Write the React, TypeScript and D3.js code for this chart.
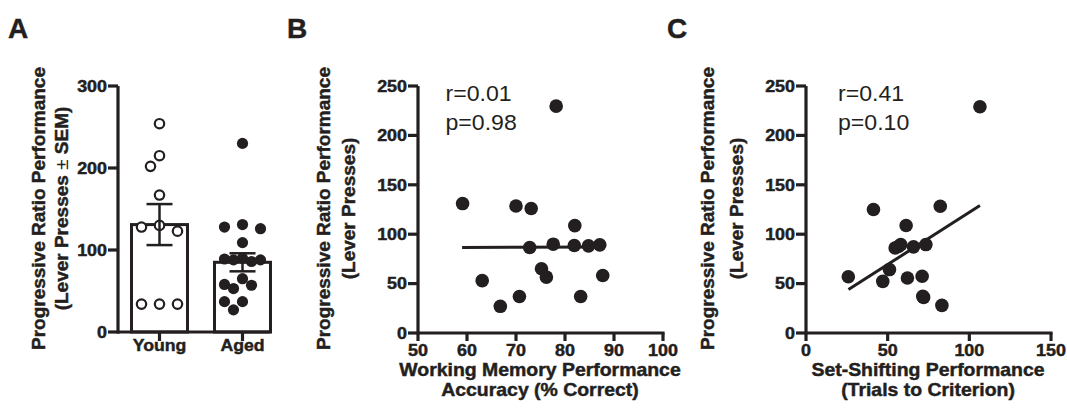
import React from 'react';
import * as d3 from 'd3';

// Panel A: progressive ratio lever presses by group
const groups = ['Young', 'Aged'];
const youngPresses = [254, 215, 202, 167, 128, 123, 130, 34, 34, 34];
const agedPresses = [230, 131, 128, 126, 109, 90, 89, 88, 88, 86, 65, 58, 57, 53, 37, 37, 27];
const groupMeans = [131, 85];
const groupSEM = [25, 11];
const ticksA = [0, 100, 200, 300];

// Panel B: working memory accuracy vs lever presses (aged rats)
const wmAccuracy = [59.1, 63.1, 66.8, 70, 70.7, 73.1, 72.8, 75.2, 76.2, 77.6, 78.2, 82, 81.9, 83.2, 84.8, 87.1, 87.7];
const wmPresses = [131, 53, 27, 128.6, 37, 126, 86.5, 65, 56.6, 89.9, 229.6, 108.7, 88.5, 37, 88.2, 89.2, 58.2];
const wmFitX = [59, 88];
const wmFitY = [86.6, 87.0];
const statsB = ['r=0.01', 'p=0.98'];
const ticksBX = [50, 60, 70, 80, 90, 100];

// Panel C: set-shifting trials to criterion vs lever presses
const ssTrials = [25.9, 41.3, 47, 51.1, 54.6, 56.5, 58, 61.3, 62.1, 65.8, 71.1, 71.5, 72, 73.4, 82.2, 83.2, 106.5];
const ssPresses = [57, 125, 52.3, 64.2, 86.1, 87.5, 89.5, 108.8, 55.7, 87.2, 57.4, 37.1, 36, 89.5, 128.3, 28, 229];
const ssFitX = [26, 106.5];
const ssFitY = [44, 129];
const statsC = ['r=0.41', 'p=0.10'];
const ticksCX = [0, 50, 100, 150];

const ticksY = [0, 50, 100, 150, 200, 250];

const INK = '#231f20';
const FONT = '"Liberation Sans", Arial, Helvetica, sans-serif';

// horizontal offsets so that dots of a column scatter don't pile up
function swarm(values: number[], y: (v: number) => number, minDist: number, steps: number[]) {
  const placed: { dx: number; cy: number }[] = [];
  const offsets = new Array(values.length).fill(0);
  const order = values.map((_, i) => i).sort((a, b) => values[b] - values[a]);
  order.forEach(i => {
    const cy = y(values[i]);
    let best = steps[0];
    let bestD = -1;
    for (const dx of steps) {
      const d = placed.length ? d3.min(placed, p => Math.hypot(p.dx - dx, p.cy - cy))! : Infinity;
      if (d >= minDist) { best = dx; break; }
      if (d > bestD) { bestD = d; best = dx; }
    }
    placed.push({ dx: best, cy });
    offsets[i] = best;
  });
  return offsets;
}

const Label = ({ x, y, size, sx = 1, rotate = false, anchor = 'middle', weight = 'bold', children }: any) => (
  <text
    transform={`translate(${x},${y})${rotate ? ' rotate(-90)' : ''} scale(${sx},1)`}
    fontSize={size}
    textAnchor={anchor}
    fontWeight={weight}
    fill={INK}
    stroke={weight === 'bold' ? INK : 'none'}
    strokeWidth={weight === 'bold' ? 0.45 : 0}
    fontFamily={FONT}
  >
    {children}
  </text>
);

const YAxis = ({ x, y, ticks }: any) => {
  const [r0, r1] = y.range();
  return (
    <g>
      <line x1={x} x2={x} y1={r0 + 1.6} y2={r1} stroke={INK} strokeWidth={3.2} />
      {ticks.map((t: number) => (
        <g key={t}>
          <line x1={x - 10} x2={x} y1={y(t)} y2={y(t)} stroke={INK} strokeWidth={3.2} />
          <Label x={x - 11} y={y(t) + 5.8} size={16} sx={1.12} anchor="end">{t}</Label>
        </g>
      ))}
    </g>
  );
};

const XAxis = ({ y, x, ticks }: any) => {
  const [r0, r1] = x.range();
  return (
    <g>
      <line x1={r0} x2={r1 + 1.6} y1={y} y2={y} stroke={INK} strokeWidth={3.2} />
      {ticks.map((t: number) => (
        <g key={t}>
          <line x1={x(t)} x2={x(t)} y1={y} y2={y + 8} stroke={INK} strokeWidth={3.2} />
          <Label x={x(t)} y={y + 23} size={16} sx={1.12}>{t}</Label>
        </g>
      ))}
    </g>
  );
};

const Scatter = ({ xs, ys, x, y, fitX, fitY, stats, statX }: any) => (
  <g>
    {xs.map((v: number, i: number) => (
      <circle key={i} cx={x(v)} cy={y(ys[i])} r={6.8} fill={INK} />
    ))}
    <line x1={x(fitX[0])} x2={x(fitX[1])} y1={y(fitY[0])} y2={y(fitY[1])} stroke={INK} strokeWidth={3} />
    <Label x={statX} y={101} size={22} sx={1.05} anchor="start" weight="normal">{stats[0]}</Label>
    <Label x={statX} y={129.5} size={22} sx={1.05} anchor="start" weight="normal">{stats[1]}</Label>
  </g>
);

const YTitle = ({ x1, x2, lines }: any) => (
  <g>
    <Label x={x1} y={208.5} size={19} rotate>{lines[0]}</Label>
    <Label x={x2} y={208.5} size={19} rotate>{lines[1]}</Label>
  </g>
);

export default function App() {
  const W = 1067;
  const H = 415;

  // panel A scales
  const yA = d3.scaleLinear().domain([0, 300]).range([332, 86]);
  const xA = d3.scalePoint().domain(groups).range([118, 284]).padding(0.5);
  const barW = 56;
  const youngDx = swarm(youngPresses, yA, 11, [0, -9, 9, -18, 18]);
  const agedDx = swarm(agedPresses, yA, 11, [0, -9, 9, -18, 18]);

  // panel B / C scales
  const xB = d3.scaleLinear().domain([50, 100]).range([418, 663]);
  const yB = d3.scaleLinear().domain([0, 250]).range([333, 86]);
  const xC = d3.scaleLinear().domain([0, 150]).range([806, 1051]);
  const yC = d3.scaleLinear().domain([0, 250]).range([333, 86]);

  const aRight = (xA('Aged') as number) + barW / 2;

  return (
    <svg width={W} height={H} style={{ position: 'absolute', left: 0, top: 0, background: '#fff' }}>
      <rect width={W} height={H} fill="#fff" />

      {/* panel letters */}
      <Label x={8} y={38} size={28} anchor="start">A</Label>
      <Label x={287} y={38} size={28} anchor="start">B</Label>
      <Label x={667} y={38} size={28} anchor="start">C</Label>

      {/* ---- Panel A ---- */}
      <YTitle
        x1={44.5}
        x2={68}
        lines={[
          'Progressive Ratio Performance',
          <>(Lever Presses <tspan fontWeight="normal" strokeWidth={0}>±</tspan> SEM)</>,
        ]}
      />
      {groups.map((g, gi) => {
        const cx = xA(g) as number;
        return (
          <rect
            key={g}
            x={cx - barW / 2}
            y={yA(groupMeans[gi])}
            width={barW}
            height={yA(0) - yA(groupMeans[gi])}
            fill="#fff"
            stroke={INK}
            strokeWidth={3}
          />
        );
      })}
      {youngPresses.map((v, i) => (
        <circle key={'y' + i} cx={(xA('Young') as number) + youngDx[i]} cy={yA(v)} r={4.7} fill="#fff" stroke={INK} strokeWidth={2.2} />
      ))}
      {agedPresses.map((v, i) => (
        <circle key={'a' + i} cx={(xA('Aged') as number) + agedDx[i]} cy={yA(v)} r={5.6} fill={INK} />
      ))}
      {groups.map((g, gi) => {
        const cx = xA(g) as number;
        const hi = yA(groupMeans[gi] + groupSEM[gi]);
        const lo = yA(groupMeans[gi] - groupSEM[gi]);
        return (
          <g key={'e' + g} stroke={INK} strokeWidth={2.5}>
            <line x1={cx} x2={cx} y1={hi} y2={lo} />
            <line x1={cx - 13} x2={cx + 13} y1={hi} y2={hi} />
            <line x1={cx - 13} x2={cx + 13} y1={lo} y2={lo} />
          </g>
        );
      })}
      <YAxis x={118} y={yA} ticks={ticksA} />
      <line x1={118} x2={aRight} y1={yA(0)} y2={yA(0)} stroke={INK} strokeWidth={3.2} />
      {groups.map(g => (
        <g key={'t' + g}>
          <line x1={xA(g)} x2={xA(g)} y1={yA(0)} y2={yA(0) + 9} stroke={INK} strokeWidth={3.2} />
          <Label x={xA(g)} y={351} size={17} sx={1.04}>{g}</Label>
        </g>
      ))}

      {/* ---- Panel B ---- */}
      <YTitle x1={330} x2={354.5} lines={['Progressive Ratio Performance', '(Lever Presses)']} />
      <Scatter xs={wmAccuracy} ys={wmPresses} x={xB} y={yB} fitX={wmFitX} fitY={wmFitY} stats={statsB} statX={445.5} />
      <YAxis x={418} y={yB} ticks={ticksY} />
      <XAxis y={333} x={xB} ticks={ticksBX} />
      <Label x={540} y={376} size={18} sx={1.08}>Working Memory Performance</Label>
      <Label x={540} y={395.5} size={18} sx={1.08}>Accuracy (% Correct)</Label>

      {/* ---- Panel C ---- */}
      <YTitle x1={714} x2={743} lines={['Progressive Ratio Performance', '(Lever Presses)']} />
      <Scatter xs={ssTrials} ys={ssPresses} x={xC} y={yC} fitX={ssFitX} fitY={ssFitY} stats={statsC} statX={838} />
      <YAxis x={806} y={yC} ticks={ticksY} />
      <XAxis y={333} x={xC} ticks={ticksCX} />
      <Label x={928} y={376} size={18} sx={1.08}>Set-Shifting Performance</Label>
      <Label x={928} y={395.5} size={18} sx={1.08}>(Trials to Criterion)</Label>
    </svg>
  );
}
